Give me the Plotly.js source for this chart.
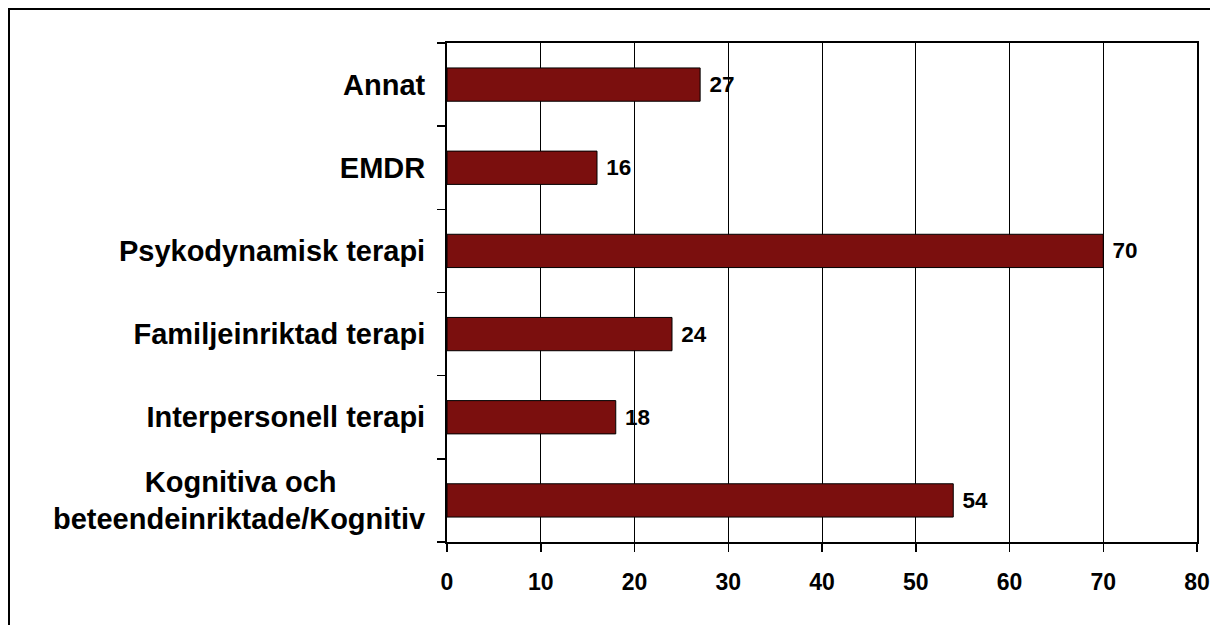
<!DOCTYPE html>
<html>
<head>
<meta charset="utf-8">
<script src="https://cdn.plot.ly/plotly-3.0.1.min.js"></script>
<style>html,body{margin:0;padding:0;background:#fff;}#chart{width:1210px;height:625px;}</style>
</head>
<body>
<div id="chart"></div>
<script>
const categories = [
  "Kognitiva och\u00a0\u00a0\u00a0\u00a0\u00a0\u00a0\u00a0\u00a0\u00a0\u00a0\u00a0<br>beteendeinriktade/Kognitiv",
  "Interpersonell terapi",
  "Familjeinriktad terapi",
  "Psykodynamisk terapi",
  "EMDR",
  "Annat"
];
const values = [54, 18, 24, 70, 16, 27];
const xTicks = [0, 10, 20, 30, 40, 50, 60, 70, 80];

const trace = {
  type: 'bar',
  orientation: 'h',
  y: categories,
  x: values,
  marker: {color: '#7B0F0E', line: {color: '#000', width: 1}},
  text: values.map(v => '\u00a0' + v),
  textposition: 'outside',
  cliponaxis: false,
  textfont: {family: 'Liberation Sans, Arial, sans-serif', size: 22.5, color: '#000', weight: 'bold'},
  hoverinfo: 'none'
};

const layout = {
  width: 1210, height: 625,
  margin: {l: 447, r: 13, t: 43, b: 83, pad: 0},
  paper_bgcolor: '#fff', plot_bgcolor: '#fff',
  bargap: 0.6,
  showlegend: false,
  font: {family: 'Liberation Sans, Arial, sans-serif', color: '#000'},
  xaxis: {
    range: [0, 80],
    tickvals: xTicks,
    ticktext: xTicks.map(String),
    showgrid: true, gridcolor: '#000', gridwidth: 1,
    showline: true, linecolor: '#000', linewidth: 2, mirror: true,
    ticks: 'outside', ticklen: 8, tickcolor: '#000', tickwidth: 1.5,
    ticklabelstandoff: 10,
    zeroline: false,
    tickfont: {size: 23, weight: 'bold', color: '#000'}
  },
  yaxis: {
    type: 'category',
    tickson: 'boundaries',
    showgrid: false,
    showline: true, linecolor: '#000', linewidth: 2, mirror: true,
    ticks: 'outside', ticklen: 8, tickcolor: '#000', tickwidth: 1.5,
    ticklabelstandoff: 14,
    tickfont: {size: 29, weight: 'bold', color: '#000'}
  },
  shapes: [{
    type: 'rect', xref: 'paper', yref: 'paper',
    x0: -0.584, x1: 1.03, y0: -0.3, y1: 1.068,
    line: {color: '#000', width: 2}, fillcolor: 'rgba(0,0,0,0)', layer: 'above'
  }]
};

Plotly.newPlot('chart', [trace], layout, {staticPlot: true});
</script>
</body>
</html>
